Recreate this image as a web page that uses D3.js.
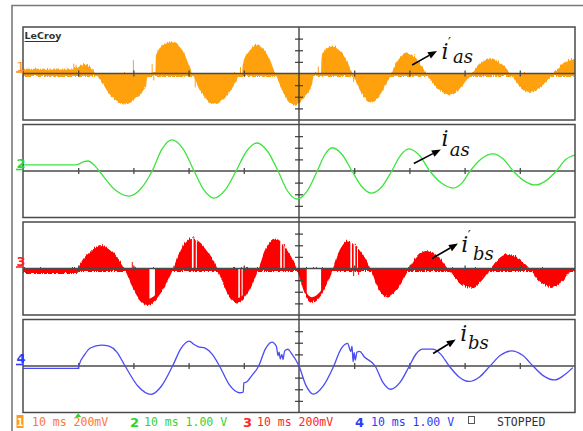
<!DOCTYPE html>
<html>
<head>
<meta charset="utf-8">
<script src="https://cdn.jsdelivr.net/npm/d3@7"></script>
<style>
  html, body { margin: 0; padding: 0; background: #fff; }
  svg { display: block; }
</style>
</head>
<body>
<svg id="scope" width="583" height="431"></svg>
<script>
// ---- Acquisition: 10 ms/div, 10 divisions, 8 vertical divisions per trace ----
const timeDomain = [0, 100];                       // ms
const timeGridTicks = [10, 20, 30, 40, 60, 70, 80, 90];
const divTicks = [-3, -2, -1, 1, 2, 3];

// Channel 1 (200 mV/div) – envelope of the chopped current i'as, mV
const ch1Time   = [0, 8.5, 9.8, 10.4, 11.1, 12.3, 13.4, 15.9, 18.5, 20.4, 22.3, 22.6, 24.0, 24.1, 25.4, 26.9, 28.9, 30.8, 32.7, 34.6, 36.7, 38.6, 39.2, 39.7, 39.8, 41.0, 42.4, 44.1, 45.8, 47.5, 49.2, 51.0, 52.4, 52.7, 54.0, 54.1, 55.9, 57.9, 59.8, 61.4, 63.0, 64.8, 66.6, 68.0, 69.5, 71.3, 73.2, 75.2, 77.2, 79.1, 81.1, 82.8, 84.6, 86.5, 88.5, 90.1, 91.7, 93.8, 95.9, 97.8, 99.6, 100];
const ch1Values = [100, 105, 110, 150, 180, 120, 0, -360, -500, -400, -180, 0, 0, 350, 520, 572, 430, 0, -360, -500, -380, -120, 0, 0, 170, 420, 516, 380, 0, -370, -520, -380, -150, 0, 0, 320, 500, 370, 0, -330, -466, -330, 0, 270, 380, 270, 0, -245, -344, -245, 0, 200, 278, 200, 0, -212, -300, -212, 0, 190, 266, 266];
// switching spikes on channel 1: time (ms), tip (mV)
const ch1SpikeTime  = [9.2, 9.6, 20.0, 20.1, 23.4, 23.7, 31.2, 31.6, 39.4, 53.5, 59.9, 60.3, 73.6, 88.9];
const ch1SpikeValue = [170, 150, 230, -110, 160, -120, -240, -170, 110, 120, -150, -110, -90, -70];

// Channel 2 (1.00 V/div) – measured current ias, V
const ch2Time   = [0, 9.6, 10.2, 11.0, 11.8, 12.8, 13.8, 16.5, 19.2, 21.3, 23.4, 25.2, 27.0, 29.0, 31.0, 32.8, 34.6, 36.6, 38.6, 40.5, 42.4, 44.3, 46.2, 47.9, 49.6, 51.5, 53.3, 54.7, 56.0, 57.8, 59.6, 61.4, 63.1, 65.0, 66.8, 68.4, 69.9, 71.8, 73.7, 75.8, 77.9, 79.5, 81.0, 83.0, 85.1, 87.0, 88.8, 90.8, 92.8, 94.7, 96.6, 98.3, 100];
const ch2Values = [0.52, 0.52, 0.62, 0.80, 0.86, 0.55, 0, -1.55, -2.16, -1.55, 0, 1.9, 2.67, 1.9, 0, -1.65, -2.33, -1.65, 0, 1.7, 2.41, 1.7, 0, -1.7, -2.41, -1.7, 0, 1.42, 2.0, 1.42, 0, -1.35, -1.9, -1.35, 0, 1.35, 1.9, 1.35, 0, -1.04, -1.47, -1.04, 0, 1.04, 1.47, 1.04, 0, -0.85, -1.2, -0.85, 0, 0.98, 1.38];

// Channel 3 (200 mV/div) – envelope of the chopped current i'bs, mV
const ch3Time   = [0, 9.9, 10.0, 12.1, 14.2, 16.3, 18.5, 20.5, 22.6, 24.8, 27.1, 28.8, 30.5, 32.9, 35.3, 37.0, 38.8, 40.7, 42.6, 44.1, 45.6, 47.6, 49.7, 51.0, 52.3, 54.2, 56.1, 57.4, 58.8, 60.9, 63.0, 64.4, 65.9, 67.8, 69.8, 71.4, 73.0, 75.1, 77.2, 79.1, 81.1, 82.8, 84.6, 86.2, 87.9, 89.9, 91.9, 93.7, 95.6, 97.6, 99.6, 100];
const ch3Values = [-60, -60, 0, 300, 420, 300, 0, -430, -610, -430, 0, 385, 544, 385, 0, -400, -566, -400, 0, 380, 534, 380, 0, -400, -560, -400, 0, 355, 500, 355, 0, -330, -466, -330, 0, 236, 334, 236, 0, -224, -316, -224, 0, 188, 266, 188, 0, -212, -300, -212, 0, 0];
// blanked strokes inside the chopped lobes: start (ms), end (ms), fraction of the lobe height
const ch3GapStart    = [22.9, 30.6, 31.3, 39.0, 39.6, 46.6, 47.2, 51.4, 59.3, 59.9, 60.5];
const ch3GapEnd      = [23.9, 30.9, 31.5, 39.3, 39.8, 46.9, 47.4, 54.0, 59.6, 60.2, 60.7];
const ch3GapFraction = [0.86, 0.97, 0.97, 0.9, 0.9, 0.97, 0.95, 0.88, 0.97, 0.95, 0.93];
// switching spikes on channel 3
const ch3SpikeTime  = [19.8, 20.2, 34.6, 35.4, 59.9, 60.8, 66.0];
const ch3SpikeValue = [110, -90, 120, -100, -130, -110, -80];

// Channel 4 (1.00 V/div) – measured current ibs, V
const ch4Time   = [0, 10.0, 10.1, 11.2, 12.2, 14.2, 15.6, 17.0, 18.5, 20.8, 23.2, 25.1, 27.1, 28.6, 30.1, 31.0, 31.7, 33.0, 34.3, 35.6, 37.4, 39.2, 39.9, 40.0, 40.4, 41.5, 42.7, 43.9, 45.1, 45.9, 46.2, 46.4, 46.6, 46.9, 47.1, 47.4, 48.0, 48.6, 50.0, 51.3, 52.6, 54.4, 56.3, 57.5, 58.8, 59.4, 59.6, 59.8, 60.0, 60.2, 60.5, 61.0, 61.8, 63.8, 65.2, 66.6, 68.3, 70.0, 71.2, 72.4, 74.2, 75.7, 77.2, 79.0, 80.8, 82.7, 84.6, 86.5, 88.5, 90.5, 92.4, 94.3, 96.3, 98.0, 99.6];
const ch4Values = [-0.2, -0.2, 0, 1.0, 1.55, 1.8, 1.7, 1.2, 0, -1.72, -2.44, -1.72, 0, 1.5, 2.14, 1.85, 1.67, 1.53, 1.0, 0, -1.63, -2.3, -2.25, -1.45, -1.4, -0.8, 0, 1.45, 2.06, 1.7, 0.9, 1.2, 0.6, 1.0, 0.55, 1.3, 1.44, 1.1, 0, -1.71, -2.42, -1.71, 0, 1.37, 1.94, 1.25, 1.7, 0.35, 1.15, 0.5, 1.2, 1.25, 0.8, 0, -1.41, -2.0, -1.41, 0, 1.03, 1.45, 1.45, 1.0, 0, -0.94, -1.33, -0.94, 0, 0.92, 1.3, 0.92, 0, -0.85, -1.2, -0.8, -0.14];

// Trace labels (arrow tail/head, glyph positions in time ms / divisions)
const labelChannel = [1, 2, 3, 4];
const labelSub     = ["as", "as", "bs", "bs"];
const labelPrime   = [true, false, true, false];
const arrowTail    = [[70.5, 0.73], [70.8, 0.65], [74.1, 0.86], [74.3, 1.08]];
const arrowHead    = [[75.0, 1.94], [75.7, 1.85], [78.8, 2.15], [78.4, 2.28]];
const glyphAt      = [[75.8, 1.25], [75.8, 2.19], [79.4, 1.46], [79.2, 2.19]];
const subAt        = [[77.9, 0.90], [77.3, 1.33], [81.5, 0.77], [80.6, 1.42]];

// ---- Layout ----
const svg = d3.select("#scope");
const panelLeft = 23, panelRight = 575, panelH = 93;
const panelTop = i => 27 + i * 97.5;
const gridColor = "#4a4a4a";

const x = d3.scaleLinear().domain(timeDomain).range([panelLeft, panelRight]);

const channels = [
  { id: 1, color: "#FFA010", mark: "#FF8A2A", perDiv: 200,  time: ch1Time, values: ch1Values, chopped: true,
    spikeTime: ch1SpikeTime, spikeValue: ch1SpikeValue },
  { id: 2, color: "#3FE33F", mark: "#2FD42F", perDiv: 1.0,  time: ch2Time, values: ch2Values, chopped: false },
  { id: 3, color: "#FF0000", mark: "#FF2020", perDiv: 200,  time: ch3Time, values: ch3Values, chopped: true,
    spikeTime: ch3SpikeTime, spikeValue: ch3SpikeValue,
    gapStart: ch3GapStart, gapEnd: ch3GapEnd, gapFraction: ch3GapFraction },
  { id: 4, color: "#4B4BF5", mark: "#2E3CF5", perDiv: 1.0,  time: ch4Time, values: ch4Values, chopped: false }
];
channels.forEach((c, i) => {
  c.top = panelTop(i);
  c.y = d3.scaleLinear().domain([-4 * c.perDiv, 4 * c.perDiv]).range([c.top + panelH, c.top]);
  c.zero = c.y(0);
});

// ragged (vertically chopped) edge of the PWM traces: vertical-only displacement
const defs = svg.append("defs");
const pwm = defs.append("filter").attr("id", "pwm")
  .attr("x", "-1%").attr("y", "-8%").attr("width", "102%").attr("height", "116%");
pwm.append("feTurbulence").attr("type", "turbulence")
  .attr("baseFrequency", "0.9 0.04").attr("numOctaves", 1).attr("seed", 5).attr("result", "noise");
pwm.append("feColorMatrix").attr("in", "noise").attr("type", "matrix")
  .attr("values", "0 0 0 0 0.5  0 1 0 0 0  0 0 0 0 0  0 0 0 0 1").attr("result", "vnoise");
pwm.append("feDisplacementMap").attr("in", "SourceGraphic").attr("in2", "vnoise")
  .attr("scale", 4).attr("xChannelSelector", "R").attr("yChannelSelector", "G");

// outer screen frame
svg.append("path")
  .attr("d", `M12,431 V5.5 H583`)
  .attr("fill", "none").attr("stroke", "#7a7a7a").attr("stroke-width", 1.6);

// ---- Chopped traces ----
channels.filter(c => c.chopped).forEach(c => {
  const g = svg.append("g");
  const pts = d3.zip(c.time, c.values);
  const area = frac => d3.area().x(d => x(d[0])).y0(c.zero).y1(d => c.y(d[1] * frac)).curve(d3.curveMonotoneX);

  const fillG = g.append("g").attr("filter", "url(#pwm)");
  // switching-noise band along the zero level
  fillG.append("rect")
    .attr("x", x(timeDomain[0])).attr("width", x(timeDomain[1]) - x(timeDomain[0]))
    .attr("y", c.y(0.13 * c.perDiv)).attr("height", c.y(-0.13 * c.perDiv) - c.y(0.13 * c.perDiv))
    .attr("fill", c.color);
  fillG.append("path").datum(pts).attr("fill", c.color).attr("d", area(1));

  if (c.gapStart) {
    c.gapStart.forEach((s, k) => {
      const id = `gap${c.id}-${k}`;
      defs.append("clipPath").attr("id", id).append("rect")
        .attr("x", x(s)).attr("width", x(c.gapEnd[k]) - x(s))
        .attr("y", c.top).attr("height", panelH);
      g.append("path").datum(pts)
        .attr("clip-path", `url(#${id})`)
        .attr("fill", "#fff")
        .attr("d", area(c.gapFraction[k]));
    });
  }
  g.selectAll("line.spike").data(d3.range(c.spikeTime.length)).join("line")
    .attr("class", "spike")
    .attr("x1", k => x(c.spikeTime[k])).attr("x2", k => x(c.spikeTime[k]))
    .attr("y1", c.zero).attr("y2", k => c.y(c.spikeValue[k]))
    .attr("stroke", c.color).attr("stroke-width", 1);
});

// ---- Graticule ----
channels.forEach(c => {
  const g = svg.append("g");
  g.append("line")
    .attr("x1", panelLeft).attr("x2", panelRight).attr("y1", c.zero).attr("y2", c.zero)
    .attr("stroke", gridColor).attr("stroke-width", 1.3);
  const ax = g.append("g").attr("transform", `translate(0,${c.zero - 3})`)
    .call(d3.axisBottom(x).tickValues(timeGridTicks).tickSize(6).tickFormat(""));
  ax.select(".domain").remove();
  ax.selectAll(".tick line").attr("stroke", gridColor).attr("stroke-width", 1.3);

  const ay = g.append("g").attr("transform", `translate(${x(50) - 4},0)`)
    .call(d3.axisRight(c.y).tickValues(divTicks.map(d => d * c.perDiv)).tickSize(8).tickFormat(""));
  ay.select(".domain").remove();
  ay.selectAll(".tick line").attr("stroke", gridColor).attr("stroke-width", 1.3);
});
// centre time marker running through all grids
svg.append("line")
  .attr("x1", x(50)).attr("x2", x(50))
  .attr("y1", channels[0].top).attr("y2", channels[3].top + panelH)
  .attr("stroke", "#333").attr("stroke-width", 1.3);

// ---- Continuous traces ----
channels.filter(c => !c.chopped).forEach(c => {
  svg.append("path").datum(d3.zip(c.time, c.values))
    .attr("fill", "none").attr("stroke", c.color).attr("stroke-width", 1.3)
    .attr("stroke-linejoin", "round")
    .attr("d", d3.line().x(d => x(d[0])).y(d => c.y(d[1])).curve(d3.curveMonotoneX));
});

// grid frames
channels.forEach(c => {
  svg.append("rect")
    .attr("x", panelLeft).attr("y", c.top).attr("width", panelRight - panelLeft).attr("height", panelH)
    .attr("fill", "none").attr("stroke", gridColor).attr("stroke-width", 1.5);
});

// channel ground markers
channels.forEach(c => {
  svg.append("text")
    .attr("x", 16.5).attr("y", c.zero - 3)
    .attr("font-family", "DejaVu Sans, sans-serif").attr("font-size", 13)
    .attr("font-weight", c.id === 1 ? "normal" : "bold")
    .attr("fill", c.mark).text(c.id);
  svg.append("line")
    .attr("x1", 16).attr("x2", panelLeft).attr("y1", c.zero - 1.5).attr("y2", c.zero - 1.5)
    .attr("stroke", c.mark).attr("stroke-width", 1.6);
});

// brand mark
svg.append("text")
  .attr("x", 24.5).attr("y", 39)
  .attr("font-family", "DejaVu Sans, sans-serif").attr("font-size", 9.5).attr("font-weight", "bold")
  .attr("fill", "#333").text("LeCroy");
svg.append("line").attr("x1", 24.5).attr("x2", 58).attr("y1", 41.5).attr("y2", 41.5)
  .attr("stroke", "#333").attr("stroke-width", 1.2);

// ---- Trace labels: arrow plus i (prime) with subscript ----
labelChannel.forEach((chId, k) => {
  const c = channels[chId - 1];
  const P = p => [x(p[0]), c.y(p[1] * c.perDiv)];
  const [x0, y0] = P(arrowTail[k]);
  const [x1, y1] = P(arrowHead[k]);
  const ang = Math.atan2(y1 - y0, x1 - x0);
  const headLen = 9, headW = 3.6;
  const bx = x1 - headLen * Math.cos(ang), by = y1 - headLen * Math.sin(ang);
  svg.append("line").attr("x1", x0).attr("y1", y0).attr("x2", bx).attr("y2", by)
    .attr("stroke", "#000").attr("stroke-width", 1.6);
  svg.append("path")
    .attr("d", `M${x1},${y1} L${bx - headW * Math.sin(ang)},${by + headW * Math.cos(ang)} L${bx + headW * Math.sin(ang)},${by - headW * Math.cos(ang)} Z`)
    .attr("fill", "#000");

  const [gx, gy] = P(glyphAt[k]);
  const [sx, sy] = P(subAt[k]);
  const t = svg.append("text").attr("x", gx).attr("y", gy)
    .attr("font-family", "DejaVu Serif, serif").attr("font-style", "italic").attr("font-size", 22)
    .attr("fill", "#111");
  t.append("tspan").text("i");
  if (labelPrime[k]) {
    t.append("tspan").attr("dx", -0.5).attr("dy", -12).attr("font-size", 13).attr("font-style", "normal").text("′");
  }
  t.append("tspan").attr("x", sx).attr("y", sy).attr("font-size", 18).text(labelSub[k]);
});

// ---- Status line ----
const mono = "DejaVu Sans Mono, monospace";
const statusY = 426;
svg.append("rect").attr("x", 16.5).attr("y", 415).attr("width", 7).attr("height", 13).attr("fill", "#FF9A1A");
svg.append("text").attr("x", 20).attr("y", statusY).attr("text-anchor", "middle")
  .attr("font-family", mono).attr("font-size", 11).attr("font-weight", "bold").attr("fill", "#fff").text("1");

const statusNum   = [null, "2", "3", "4"];
const statusNumX  = [null, 130, 243, 355];
const statusText  = ["10 ms 200mV", "10 ms 1.00 V", "10 ms 200mV", "10 ms 1.00 V"];
const statusTextX = [32, 144, 257, 371];
const statusColor = ["#FF7436", "#2FD42F", "#FF2525", "#2E3CF5"];
statusText.forEach((t, k) => {
  if (statusNum[k]) {
    svg.append("text").attr("x", statusNumX[k]).attr("y", statusY + 1)
      .attr("font-family", "DejaVu Sans, sans-serif").attr("font-size", 13).attr("font-weight", "bold")
      .attr("fill", statusColor[k]).text(statusNum[k]);
  }
  svg.append("text").attr("x", statusTextX[k]).attr("y", statusY)
    .attr("font-family", mono).attr("font-size", 11.5)
    .attr("fill", statusColor[k]).text(t);
});
svg.append("rect").attr("x", 468.5).attr("y", 416.5).attr("width", 6).attr("height", 7)
  .attr("fill", "none").attr("stroke", "#555").attr("stroke-width", 1);
svg.append("text").attr("x", 497).attr("y", statusY)
  .attr("font-family", mono).attr("font-size", 11.5).attr("fill", "#333").text("STOPPED");

// trigger position marker
svg.append("path")
  .attr("d", `M${x(10) - 3},417 L${x(10) + 3},417 L${x(10)},413 Z`)
  .attr("fill", "#2FD42F");
</script>
</body>
</html>
